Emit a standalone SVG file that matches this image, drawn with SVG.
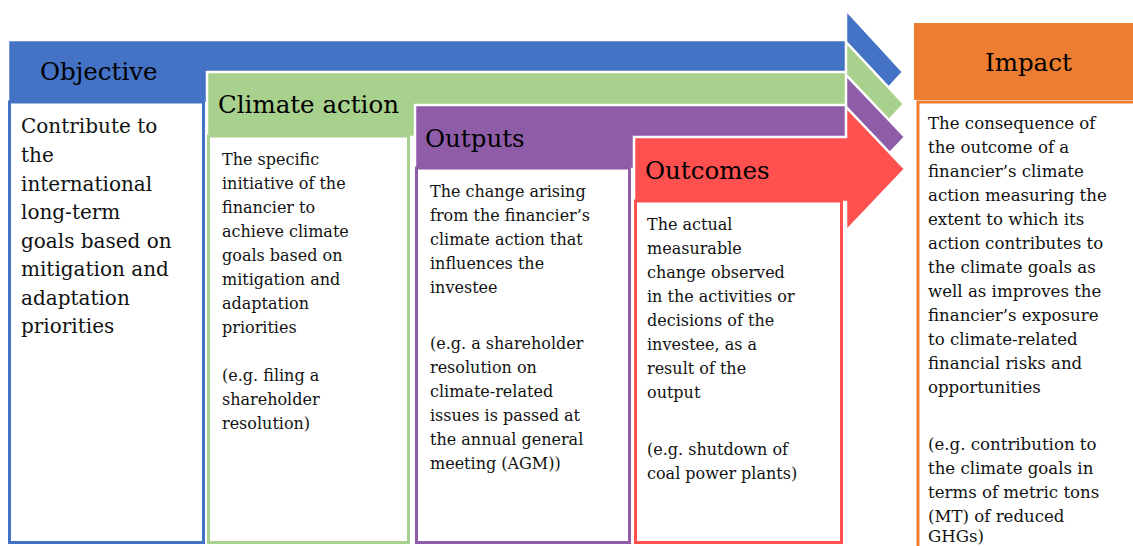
<svg xmlns="http://www.w3.org/2000/svg" width="1133" height="546" viewBox="0 0 1133 546">
<style>
.arrow{stroke:#ffffff;stroke-width:2.5;stroke-linejoin:miter}
.col{fill:#ffffff;stroke-width:3}
.hd{font-family:"DejaVu Serif","Liberation Serif",serif;font-size:24.5px;fill:#000}
.tx{font-family:"DejaVu Serif","Liberation Serif",serif;font-size:16px;fill:#111}
.tx1{font-family:"DejaVu Serif","Liberation Serif",serif;font-size:20px;fill:#111}
.tx5{font-family:"DejaVu Serif","Liberation Serif",serif;font-size:16.6px;fill:#111}
</style>
<rect width="1133" height="546" fill="#ffffff"/>
<g id="objective">
<polygon class="arrow" fill="#4472C4" points="8,40 846,40 846,10 903,72 846,134 846,103 8,103"/>
<rect class="col" stroke="#4472C4" x="9.5" y="102" width="194" height="440.5"/>
<text class="hd" x="40" y="80">Objective</text>
<text class="tx1" x="21"><tspan x="21" y="133">Contribute to</tspan><tspan x="21" y="162">the</tspan><tspan x="21" y="191">international</tspan><tspan x="21" y="219">long-term</tspan><tspan x="21" y="248">goals based on</tspan><tspan x="21" y="276">mitigation and</tspan><tspan x="21" y="305">adaptation</tspan><tspan x="21" y="333">priorities</tspan></text>
</g>
<g id="climate-action">
<polygon class="arrow" fill="#A9D18E" points="207,72 846,72 846,42 904,104 846,166 846,137 207,137"/>
<rect class="col" stroke="#A9D18E" x="208.5" y="136" width="200" height="406.5"/>
<text class="hd" x="218" y="113">Climate action</text>
<text class="tx"><tspan x="222" y="165">The specific</tspan><tspan x="222" y="189">initiative of the</tspan><tspan x="222" y="213">financier to</tspan><tspan x="222" y="237">achieve climate</tspan><tspan x="222" y="261">goals based on</tspan><tspan x="222" y="285">mitigation and</tspan><tspan x="222" y="309">adaptation</tspan><tspan x="222" y="333">priorities</tspan><tspan x="222" y="381">(e.g. filing a</tspan><tspan x="222" y="405">shareholder</tspan><tspan x="222" y="429">resolution)</tspan></text>
</g>
<g id="outputs">
<polygon class="arrow" fill="#8F5DA8" points="415,105 846,105 846,75 905,137 846,199 846,169 415,169"/>
<rect class="col" stroke="#8F5DA8" x="416.5" y="168" width="213" height="374.5"/>
<text class="hd" x="425" y="147">Outputs</text>
<text class="tx"><tspan x="430" y="197">The change arising</tspan><tspan x="430" y="221">from the financier’s</tspan><tspan x="430" y="245">climate action that</tspan><tspan x="430" y="269">influences the</tspan><tspan x="430" y="293">investee</tspan><tspan x="430" y="349">(e.g. a shareholder</tspan><tspan x="430" y="373">resolution on</tspan><tspan x="430" y="397">climate-related</tspan><tspan x="430" y="421">issues is passed at</tspan><tspan x="430" y="445">the annual general</tspan><tspan x="430" y="469">meeting (AGM))</tspan></text>
</g>
<g id="outcomes">
<polygon class="arrow" fill="#FF5050" points="634,137 846,137 846,107 905,169 846,231 846,202 634,202"/>
<rect class="col" stroke="#FF5050" x="635.5" y="201" width="206" height="341.5"/>
<text class="hd" x="645" y="179">Outcomes</text>
<text class="tx"><tspan x="647" y="230">The actual</tspan><tspan x="647" y="254">measurable</tspan><tspan x="647" y="278">change observed</tspan><tspan x="647" y="302">in the activities or</tspan><tspan x="647" y="326">decisions of the</tspan><tspan x="647" y="350">investee, as a</tspan><tspan x="647" y="374">result of the</tspan><tspan x="647" y="398">output</tspan><tspan x="647" y="455">(e.g. shutdown of</tspan><tspan x="647" y="479">coal power plants)</tspan></text>
</g>
<g id="impact">
<rect x="914" y="23" width="225" height="77" fill="#ED7D31"/>
<rect class="col" stroke="#ED7D31" x="918" y="102" width="230" height="470"/>
<text class="hd" x="985" y="71">Impact</text>
<text class="tx5"><tspan x="928" y="129">The consequence of</tspan><tspan x="928" y="153">the outcome of a</tspan><tspan x="928" y="177">financier’s climate</tspan><tspan x="928" y="201">action measuring the</tspan><tspan x="928" y="225">extent to which its</tspan><tspan x="928" y="249">action contributes to</tspan><tspan x="928" y="273">the climate goals as</tspan><tspan x="928" y="297">well as improves the</tspan><tspan x="928" y="321">financier’s exposure</tspan><tspan x="928" y="345">to climate-related</tspan><tspan x="928" y="369">financial risks and</tspan><tspan x="928" y="393">opportunities</tspan><tspan x="928" y="450">(e.g. contribution to</tspan><tspan x="928" y="474">the climate goals in</tspan><tspan x="928" y="498">terms of metric tons</tspan><tspan x="928" y="522">(MT) of reduced</tspan><tspan x="928" y="542">GHGs)</tspan></text>
</g>
<g id="connectors"></g>
</svg>
